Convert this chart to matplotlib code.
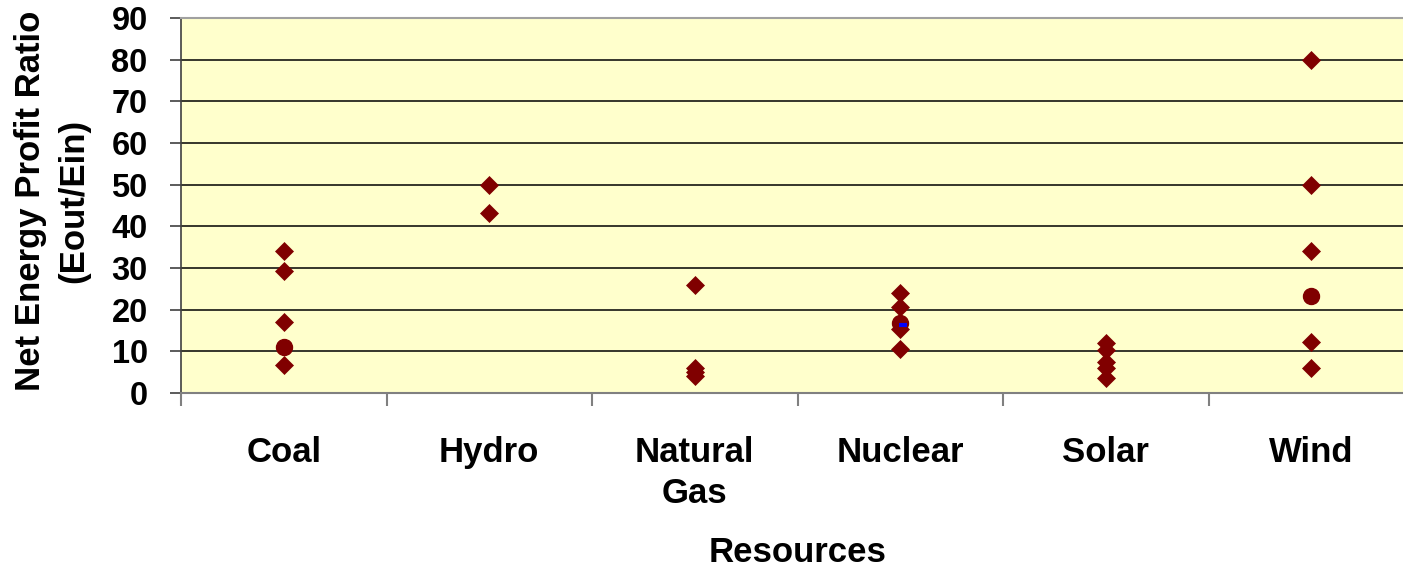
import matplotlib
matplotlib.use("Agg")
import matplotlib.pyplot as plt
from matplotlib.ticker import FixedLocator, NullFormatter

plt.rcParams['font.family'] = ['Liberation Sans', 'DejaVu Sans']
plt.rcParams['font.weight'] = 'bold'

categories = ["Coal", "Hydro", "Natural\nGas", "Nuclear", "Solar", "Wind"]
coal = [34, 29.2, 17, 6.7]
hydro = [50, 43.2]
natural_gas = [26, 6, 5, 4]
nuclear = [24, 20.6, 15.4, 10.5]
solar = [12, 10.3, 7.5, 6, 3.5]
wind = [80, 50, 34, 12.2, 6]
diamond_series = [coal, hydro, natural_gas, nuclear, solar, wind]
mean_categories = ["Coal", "Nuclear", "Wind"]
mean_values = [11, 16.9, 23.2]
median_categories = ["Nuclear"]
median_values = [16.3]
y_ticks = [0, 10, 20, 30, 40, 50, 60, 70, 80, 90]

W, H = 1403, 570
fig = plt.figure(figsize=(W / 100, H / 100), dpi=100)
ax = fig.add_axes([181 / W, 1 - 393 / H, 1 - 181 / W, (393 - 18) / H])
ax.set_facecolor('#FFFFCC')

dark_red = '#800000'
for i, vals in enumerate(diamond_series):
    ax.plot([i] * len(vals), vals, linestyle='none', marker='D', markersize=9,
            markerfacecolor=dark_red, markeredgecolor=dark_red, markeredgewidth=0.5, zorder=3)

idx = {c.replace("\n", " "): i for i, c in enumerate(categories)}
ax.plot([idx[c] for c in mean_categories], mean_values, linestyle='none', marker='o',
        markersize=11.5, markerfacecolor=dark_red, markeredgecolor=dark_red, zorder=4)
ax.plot([idx[c] + 0.013 for c in median_categories], median_values, linestyle='none', marker='_',
        markersize=6, markeredgewidth=3, color='#0000FF', zorder=5)

ax.set_ylim(0, 90)
ax.set_xlim(-0.5, 5.446)
ax.set_yticks(y_ticks)
ax.set_yticklabels([str(v) for v in y_ticks], fontsize=23.5, fontweight='bold')
ax.yaxis.grid(True, color='#000000', linewidth=1.1)
ax.set_axisbelow(True)

ax.xaxis.set_major_locator(FixedLocator([-0.5, 0.5, 1.5, 2.5, 3.5, 4.5]))
ax.xaxis.set_major_formatter(NullFormatter())
ax.xaxis.set_minor_locator(FixedLocator(list(range(len(categories)))))
ax.set_xticklabels(categories, minor=True, fontsize=25, fontweight='bold', linespacing=1.3)
ax.tick_params(axis='x', which='major', length=9, width=1.5, color='#808080', direction='out')
ax.tick_params(axis='x', which='minor', length=0, pad=31)
ax.tick_params(axis='y', which='major', length=8, width=1.2, color='#404040', pad=16)

ax.spines['right'].set_visible(False)
ax.spines['top'].set_color('#A0A0A0')
ax.spines['top'].set_linewidth(1.5)
ax.spines['bottom'].set_color('#808080')
ax.spines['bottom'].set_linewidth(1.5)
ax.spines['left'].set_color('#404040')
ax.spines['left'].set_linewidth(1.2)

fig.text(798 / W, 1 - 553 / H, "Resources", ha='center', va='center', fontsize=25, fontweight='bold')
fig.text(52 / W, 1 - 201 / H, "Net Energy Profit Ratio\n(Eout/Ein)", ha='center', va='center',
         rotation=90, fontsize=25, fontweight='bold', linespacing=1.38)

fig.savefig("out.png", dpi=100)
